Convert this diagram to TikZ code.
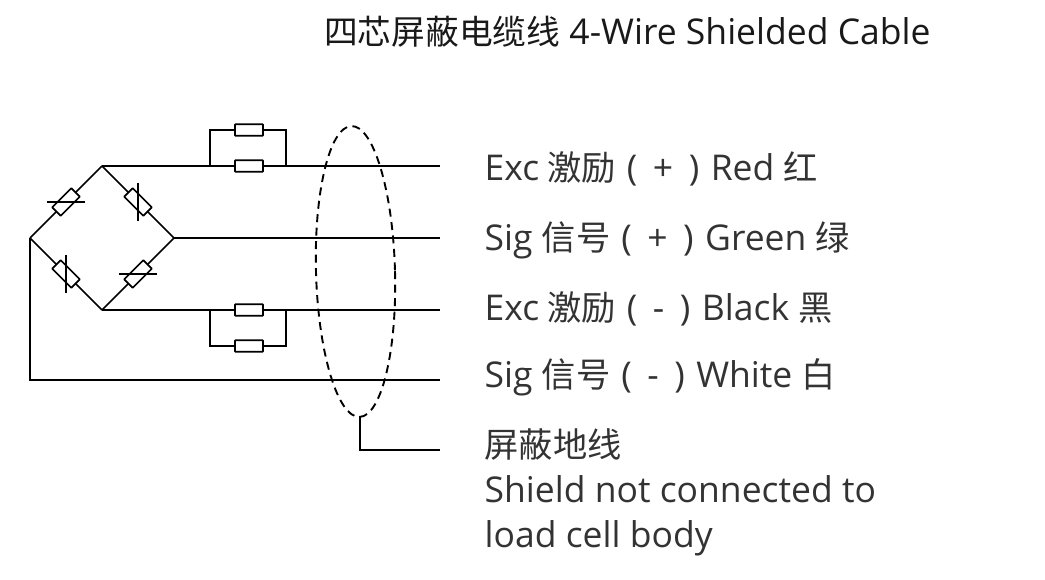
\documentclass[tikz,border=0pt]{standalone}
\usepackage{fontspec}
\setmainfont{Open Sans}
\newfontfamily\cjk[Scale=0.965]{Noto Sans CJK SC}
\newfontfamily\cjktitle[Scale=0.95]{Noto Sans CJK SC}
\usetikzlibrary{positioning,shapes.geometric}
\definecolor{textgray}{HTML}{333333}
\newcommand{\polar}[1]{\hspace{11pt}(\hspace{15.5pt}#1\hspace{15.5pt})\hspace{11.5pt}}
\tikzset{
  wire/.style={line width=2.1pt},
  arm/.style={line width=1.7pt},
  res/.style={draw, fill=white, line width=1.7pt, rounded corners=0.5pt, minimum width=28pt, minimum height=11.5pt, inner sep=0pt},
  gauge/.style={res, minimum width=27pt, minimum height=12pt},
  label/.style={anchor=base west, inner sep=0pt, text=textgray, font=\fontsize{35.5}{40}\selectfont},
}
\begin{document}
\begin{tikzpicture}[x=1pt,y=-1pt]
\useasboundingbox (0,0) rectangle (1045,580);
% bridge corners
\coordinate (L) at (30,238);
\coordinate (T) at (102,166);
\coordinate (R) at (174,238);
\coordinate (B) at (102,310);
\coordinate (c) at (30,380);
% wire ends
\coordinate (e1) at (440,166);
\coordinate (e2) at (440,238);
\coordinate (e3) at (440,310);
\coordinate (e4) at (440,380);
\coordinate (e5) at (440,450);

\draw[arm] (L) to (T);
\draw[arm] (T) to (R);
\draw[arm] (R) to (B);
\draw[arm] (B) to (L);
\draw[wire] (T) to (e1);
\draw[arm] (R) to (e2);
\draw[wire] (B) to (e3);
\draw[arm] (L) to (c) to (e4);

% gauges
\node[gauge, rotate=45] (g1) at (66,202) {};
\node[gauge, rotate=-45] (g2) at (138,202) {};
\node[gauge, rotate=-45] (g3) at (66,274) {};
\node[gauge, rotate=45] (g4) at (138,274) {};
\coordinate (s1a) at (47,202);
\coordinate (s1b) at (85,202);
\coordinate (s2a) at (138,183);
\coordinate (s2b) at (138,221);
\coordinate (s3a) at (66,255);
\coordinate (s3b) at (66,293);
\coordinate (s4a) at (119,274);
\coordinate (s4b) at (157,274);
\draw[arm] (s1a) to (s1b);
\draw[arm] (s2a) to (s2b);
\draw[arm] (s3a) to (s3b);
\draw[arm] (s4a) to (s4b);

% parallel resistors
\coordinate (p1) at (210,166);
\coordinate (q1) at (286,166);
\coordinate (p2) at (210,310);
\coordinate (q2) at (286,310);
\node[res] (r1) at (249,130) {};
\node[res] (r2) at (249,166) {};
\node[res] (r3) at (249,310) {};
\node[res] (r4) at (249,346) {};
\draw[arm] (p1) |- (r1);
\draw[arm] (r1) -| (q1);
\draw[arm] (p2) |- (r4);
\draw[arm] (r4) -| (q2);

% shield
\node[draw, ellipse, rotate=1.6, line width=1.9pt, dash pattern=on 8pt off 5.5pt, minimum width=79pt, minimum height=291pt, inner sep=0pt] (shield) at (355.5,271.5) {};
\coordinate (d) at (360,416);
\draw[arm] (d) |- (e5);

% texts
\node[label, text=black!90] (title) at (324,45) {{\cjktitle 四芯屏蔽电缆线} 4-Wire Shielded Cable};
\node[label] (t1) at (484.5,181) {Exc\hspace{-1pt} {\cjk 激励}\polar{+}Red {\cjk 红}};
\node[label] (t2) at (484.5,250.5) {Sig {\cjk 信号}\polar{+}Green {\cjk 绿}};
\node[label] (t3) at (484.5,320) {Exc\hspace{-1pt} {\cjk 激励}\polar{-}Black {\cjk 黑}};
\node[label] (t4) at (484.5,387.5) {Sig {\cjk 信号}\polar{-}White {\cjk 白}};
\node[label] (t5) at (484.5,457) {{\cjk 屏蔽地线}};
\node[label] (t6) at (484.5,502) {Shield not connected to};
\node[label] (t7) at (484.5,547) {load cell body};
\end{tikzpicture}
\end{document}
